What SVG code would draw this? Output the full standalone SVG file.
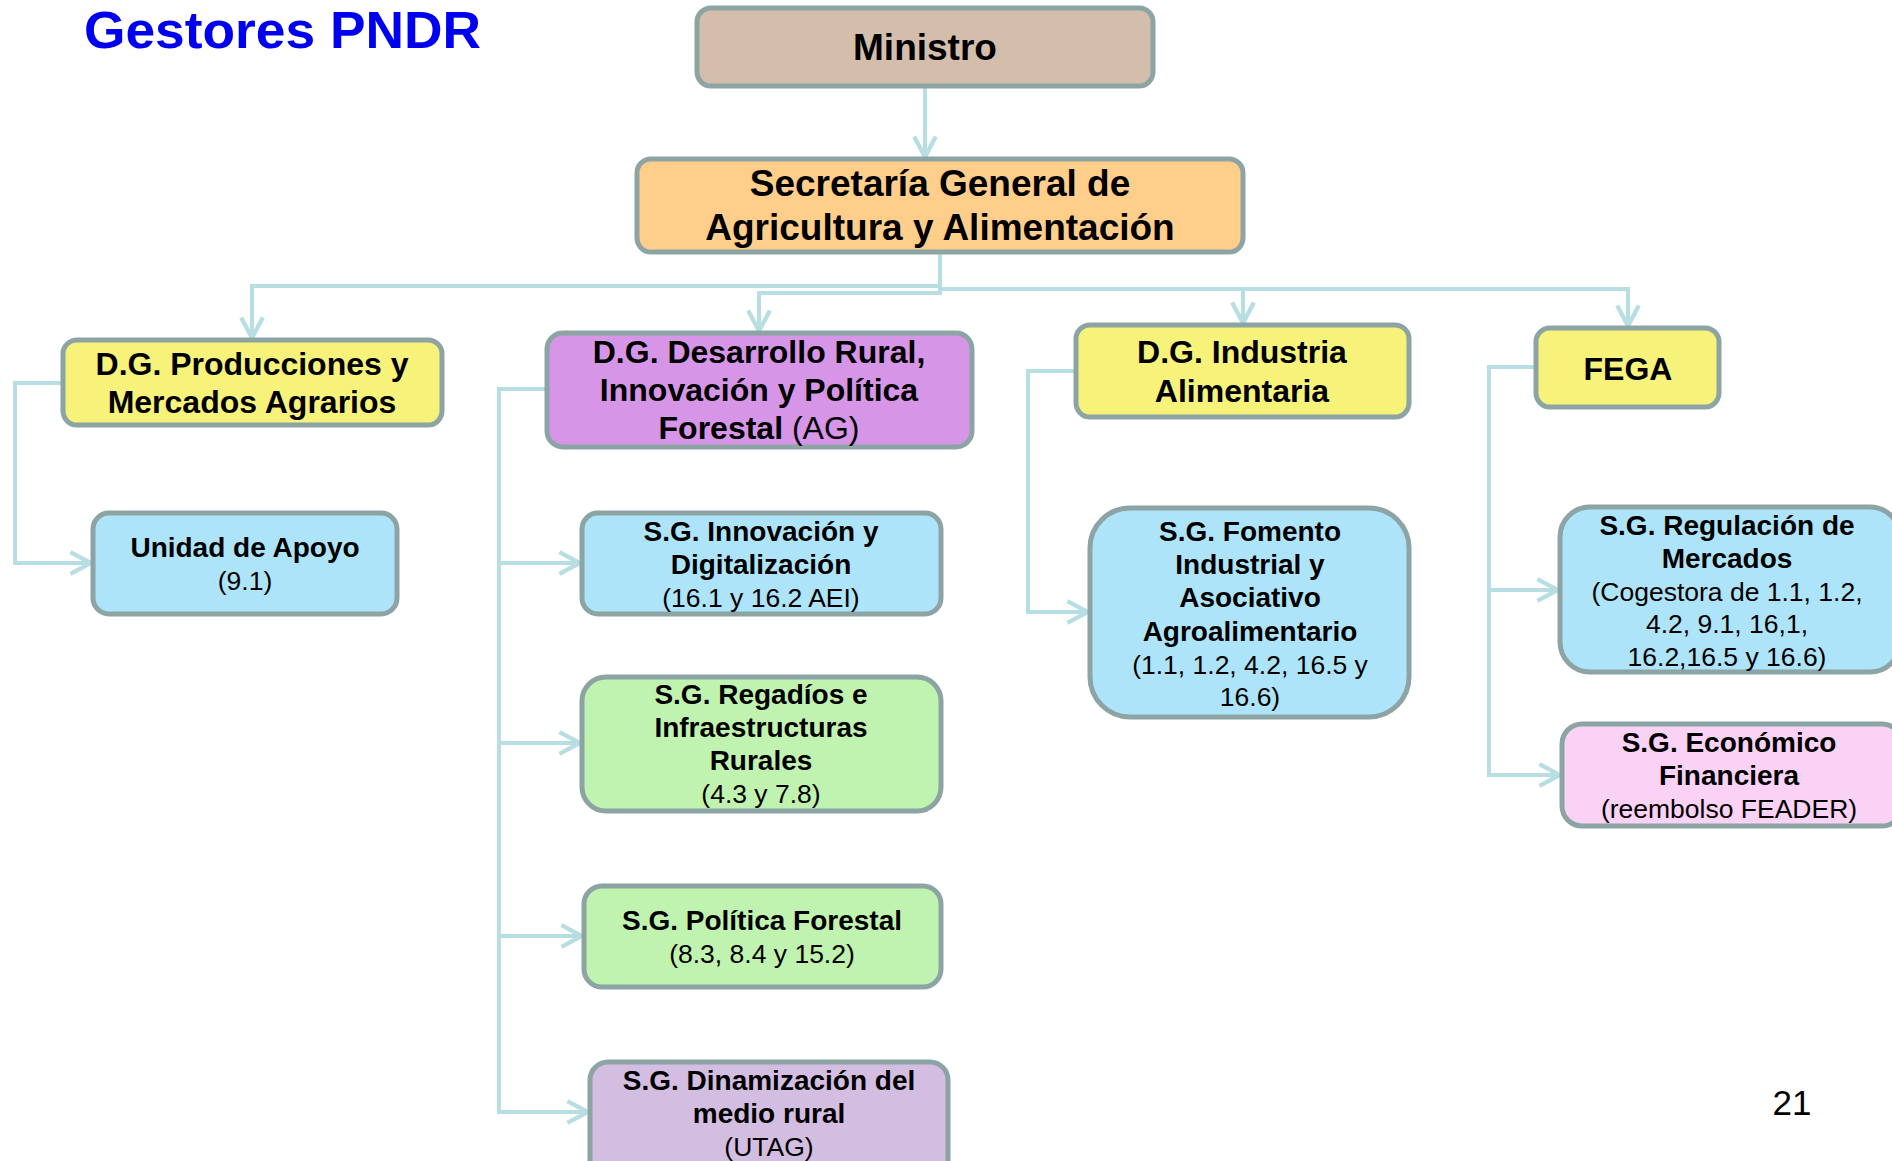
<svg xmlns="http://www.w3.org/2000/svg" width="1892" height="1161" viewBox="0 0 1892 1161">
<defs>
<marker id="arr" markerUnits="userSpaceOnUse" markerWidth="26" markerHeight="26" viewBox="0 0 24 24" refX="21" refY="12" orient="auto">
<path d="M2,2 L21,12 L2,22" fill="none" stroke="#B7DEE2" stroke-width="4"/>
</marker>
<style>
.box{stroke:#8CA4A4;stroke-width:5}
.con{fill:none;stroke:#B7DEE2;stroke-width:4}
.t{font-family:"Liberation Sans",Arial,sans-serif;text-anchor:middle;fill:#000}
.b{font-weight:bold}
.big{font-size:37px}
.dg{font-size:32px}
.sg{font-size:28px}
.r{font-size:26.5px;font-weight:normal}
</style>
</defs>
<rect width="1892" height="1161" fill="#fff"/>
<text x="84" y="48" font-family="'Liberation Sans',Arial,sans-serif" font-weight="bold" font-size="52" fill="#0000F0" textLength="397" lengthAdjust="spacingAndGlyphs">Gestores PNDR</text>

<g id="connectors">
<path class="con" d="M925,86 V157" marker-end="url(#arr)"/>
<path class="con" d="M940,252 V286 H252 V338" marker-end="url(#arr)"/>
<path class="con" d="M940,252 V293 H759 V331" marker-end="url(#arr)"/>
<path class="con" d="M940,289 H1243 V323" marker-end="url(#arr)"/>
<path class="con" d="M1243,289 H1628 V326" marker-end="url(#arr)"/>
<path class="con" d="M63,383 H15 V563 H91" marker-end="url(#arr)"/>
<path class="con" d="M547,389 H499 V1112 H588" marker-end="url(#arr)"/>
<path class="con" d="M499,563 H580" marker-end="url(#arr)"/>
<path class="con" d="M499,743 H580" marker-end="url(#arr)"/>
<path class="con" d="M499,936 H582" marker-end="url(#arr)"/>
<path class="con" d="M1076,371 H1028 V612 H1088" marker-end="url(#arr)"/>
<path class="con" d="M1536,367 H1489 V775 H1560" marker-end="url(#arr)"/>
<path class="con" d="M1489,590 H1558" marker-end="url(#arr)"/>
</g>

<g id="ministro">
<rect class="box" x="697" y="8" width="456" height="78" rx="14" fill="#D3BEAB"/>
<text class="t b big" x="925" y="60">Ministro</text>
</g>
<g id="secretaria">
<rect class="box" x="637" y="159" width="606" height="93" rx="14" fill="#FFCE8A"/>
<text class="t b big" x="940" y="196">Secretaría General de</text>
<text class="t b big" x="940" y="240">Agricultura y Alimentación</text>
</g>
<g id="dg-producciones">
<rect class="box" x="63" y="340" width="379" height="85" rx="14" fill="#F6F27A"/>
<text class="t b dg" x="252" y="375">D.G. Producciones y</text>
<text class="t b dg" x="252" y="413">Mercados Agrarios</text>
</g>
<g id="dg-desarrollo">
<rect class="box" x="547" y="333" width="425" height="114" rx="16" fill="#D795E8"/>
<text class="t b dg" x="759" y="363">D.G. Desarrollo Rural,</text>
<text class="t b dg" x="759" y="401">Innovación y Política</text>
<text class="t b dg" x="759" y="439">Forestal <tspan font-weight="normal">(AG)</tspan></text>
</g>
<g id="dg-industria">
<rect class="box" x="1076" y="325" width="333" height="92" rx="14" fill="#F6F27A"/>
<text class="t b dg" x="1242" y="363">D.G. Industria</text>
<text class="t b dg" x="1242" y="402">Alimentaria</text>
</g>
<g id="fega">
<rect class="box" x="1536" y="328" width="183" height="79" rx="14" fill="#F6F27A"/>
<text class="t b dg" x="1628" y="380">FEGA</text>
</g>
<g id="unidad-apoyo">
<rect class="box" x="93" y="513" width="304" height="101" rx="16" fill="#AEE4F9"/>
<text class="t b sg" x="245" y="557">Unidad de Apoyo</text>
<text class="t r" x="245" y="590">(9.1)</text>
</g>
<g id="sg-innovacion">
<rect class="box" x="582" y="513" width="359" height="101" rx="16" fill="#AEE4F9"/>
<text class="t b sg" x="761" y="541">S.G. Innovación y</text>
<text class="t b sg" x="761" y="574">Digitalización</text>
<text class="t r" x="761" y="607">(16.1 y 16.2 AEI)</text>
</g>
<g id="sg-regadios">
<rect class="box" x="582" y="677" width="359" height="134" rx="24" fill="#C0F3AF"/>
<text class="t b sg" x="761" y="704">S.G. Regadíos e</text>
<text class="t b sg" x="761" y="737">Infraestructuras</text>
<text class="t b sg" x="761" y="770">Rurales</text>
<text class="t r" x="761" y="803">(4.3 y 7.8)</text>
</g>
<g id="sg-politica-forestal">
<rect class="box" x="584" y="886" width="357" height="101" rx="18" fill="#C0F3AF"/>
<text class="t b sg" x="762" y="930">S.G. Política Forestal</text>
<text class="t r" x="762" y="963">(8.3, 8.4 y 15.2)</text>
</g>
<g id="sg-dinamizacion">
<rect class="box" x="590" y="1062" width="358" height="120" rx="18" fill="#D3BDE0"/>
<text class="t b sg" x="769" y="1090">S.G. Dinamización del</text>
<text class="t b sg" x="769" y="1123">medio rural</text>
<text class="t r" x="769" y="1156">(UTAG)</text>
</g>
<g id="sg-fomento">
<rect class="box" x="1090" y="508" width="319" height="209" rx="40" fill="#AEE4F9"/>
<text class="t b sg" x="1250" y="541">S.G. Fomento</text>
<text class="t b sg" x="1250" y="574">Industrial y</text>
<text class="t b sg" x="1250" y="607">Asociativo</text>
<text class="t b sg" x="1250" y="641">Agroalimentario</text>
<text class="t r" x="1250" y="674">(1.1, 1.2, 4.2, 16.5 y</text>
<text class="t r" x="1250" y="706">16.6)</text>
</g>
<g id="sg-regulacion">
<rect class="box" x="1560" y="507" width="340" height="165" rx="30" fill="#AEE4F9"/>
<text class="t b sg" x="1727" y="535">S.G. Regulación de</text>
<text class="t b sg" x="1727" y="568">Mercados</text>
<text class="t r" x="1727" y="601">(Cogestora de 1.1, 1.2,</text>
<text class="t r" x="1727" y="633">4.2, 9.1, 16,1,</text>
<text class="t r" x="1727" y="666">16.2,16.5 y 16.6)</text>
</g>
<g id="sg-economico">
<rect class="box" x="1562" y="724" width="340" height="102" rx="20" fill="#F9D2F5"/>
<text class="t b sg" x="1729" y="752">S.G. Económico</text>
<text class="t b sg" x="1729" y="785">Financiera</text>
<text class="t r" x="1729" y="818">(reembolso FEADER)</text>
</g>
<text x="1792" y="1115" font-family="'Liberation Sans',Arial,sans-serif" font-size="35" text-anchor="middle" fill="#000">21</text>
</svg>
